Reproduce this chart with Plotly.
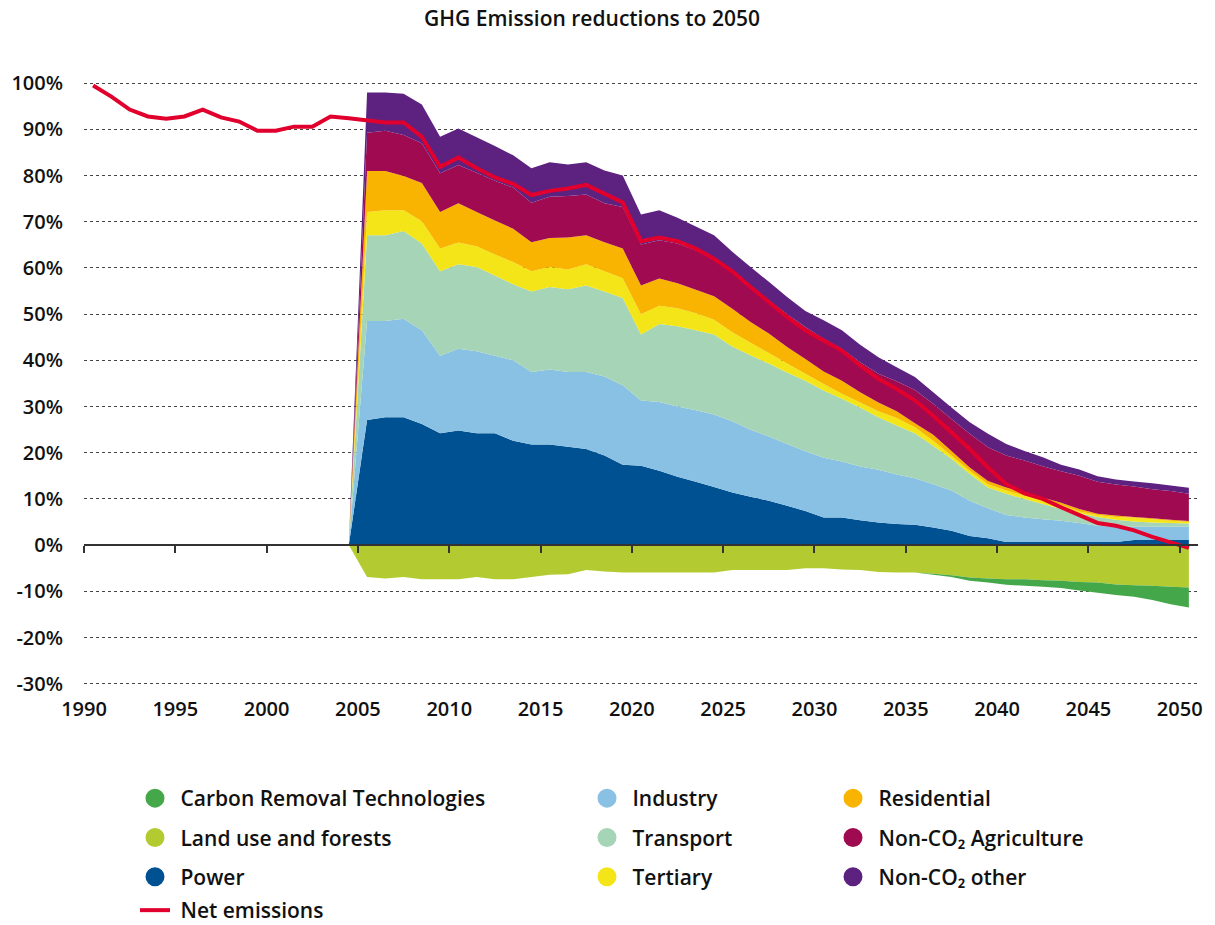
import plotly.graph_objects as go

# ---------------- data (% of 1990 emissions) -------------
years_all = list(range(1990, 2051))
years_sectors = list(range(2004, 2051))

net_emissions = [99.5, 97.1, 94.3, 92.8, 92.3, 92.8, 94.3, 92.6, 91.7, 89.7, 89.7, 90.6, 90.6, 92.8, 92.4,
                 91.9, 91.5, 91.5, 88.4, 81.9, 83.9, 81.6, 79.6, 78.2, 75.8, 76.7, 77.2, 78.0, 76.1, 74.2,
                 65.8, 66.6, 65.8, 64.2, 62.0, 59.3, 55.9, 52.6, 49.4, 46.5, 44.3, 42.1, 38.9, 36.0, 33.8,
                 31.3, 28.0, 24.4, 20.8, 16.8, 13.2, 11.2, 10.0, 8.2, 6.4, 4.8, 4.2, 3.2, 1.8, 0.7, -0.6]

power = [0, 27.1, 27.7, 27.7, 26.2, 24.2, 24.8, 24.2, 24.2, 22.6, 21.8,
         21.8, 21.3, 20.8, 19.4, 17.4, 17.2, 16.1, 14.8, 13.7, 12.6,
         11.4, 10.5, 9.6, 8.5, 7.4, 6.0, 6.0, 5.4, 4.9, 4.6,
         4.4, 3.8, 3.1, 2.0, 1.5, 0.7, 0.7, 0.7, 0.7, 0.7,
         0.7, 0.7, 1.1, 1.1, 1.1, 1.1]
industry = [0, 21.4, 20.8, 21.3, 20.3, 16.8, 17.7, 17.8, 16.8, 17.4, 15.7,
            16.2, 16.2, 16.7, 17.1, 17.2, 14.1, 14.9, 15.2, 15.5, 15.7,
            15.4, 14.5, 13.9, 13.4, 12.9, 12.9, 12.1, 11.6, 11.4, 10.7,
            10.1, 9.4, 8.7, 7.6, 6.5, 5.8, 5.3, 4.9, 4.6, 4.1,
            3.5, 3.3, 2.9, 2.9, 2.9, 2.9]
transport = [0, 18.6, 18.6, 19.0, 18.8, 18.3, 18.3, 18.2, 17.4, 16.5, 17.4,
             17.9, 17.9, 18.7, 18.4, 18.9, 14.3, 16.9, 17.4, 17.3, 17.3,
             16.2, 16.1, 15.8, 15.5, 15.3, 14.6, 13.6, 12.8, 11.4, 10.6,
             9.7, 8.3, 6.9, 5.8, 4.5, 4.6, 4.0, 3.3, 2.5, 2.1,
             1.9, 1.5, 1.1, 0.9, 0.8, 0.7]
tertiary = [0, 5.0, 5.4, 4.5, 4.8, 4.9, 4.7, 4.5, 4.5, 4.8, 4.4,
            4.3, 4.3, 4.6, 4.4, 4.3, 4.4, 3.9, 3.9, 3.7, 3.2,
            3.1, 2.7, 2.3, 1.9, 1.5, 1.4, 1.1, 1.1, 1.3, 1.6,
            1.3, 1.1, 0.7, 0.7, 0.7, 0.7, 0.7, 0.9, 0.9, 0.4,
            0.4, 0.6, 0.8, 0.7, 0.5, 0.3]
residential = [0, 8.9, 8.5, 7.4, 8.3, 7.9, 8.5, 7.4, 7.4, 7.2, 6.3,
               6.3, 6.9, 6.3, 6.3, 6.4, 6.2, 5.9, 5.4, 5.1, 5.1,
               5.1, 4.5, 4.2, 3.6, 3.2, 2.7, 2.8, 2.2, 1.9, 1.5,
               0.9, 1.3, 1.0, 0.7, 0.7, 0.7, 0.7, 0.5, 0.5, 0.5,
               0.3, 0.3, 0.2, 0.2, 0.2, 0.2]
non_co2_agriculture = [0, 8.3, 8.7, 8.9, 8.6, 8.4, 8.3, 8.5, 8.6, 8.9, 8.5,
                       8.9, 9.0, 8.8, 8.4, 9.0, 8.9, 8.3, 8.6, 8.5, 8.1,
                       8.3, 7.9, 7.2, 7.1, 6.9, 7.1, 6.9, 6.5, 6.2, 6.5,
                       7.2, 6.7, 6.9, 7.3, 7.3, 6.9, 6.9, 6.8, 6.8, 7.2,
                       6.9, 6.7, 6.6, 6.3, 6.2, 5.9]
non_co2_other = [0, 8.7, 8.3, 8.9, 8.4, 7.9, 7.9, 7.7, 7.5, 7.0, 7.5,
                 7.5, 6.8, 7.0, 7.1, 6.8, 6.5, 6.5, 5.6, 5.2, 5.1,
                 4.0, 4.0, 4.0, 3.7, 3.5, 4.0, 4.0, 3.8, 3.6, 3.0,
                 2.8, 2.5, 2.5, 2.5, 2.9, 2.5, 2.1, 1.9, 1.4, 1.4,
                 1.2, 1.1, 1.1, 1.3, 1.2, 1.3]
land_use = [0, -6.9, -7.2, -6.9, -7.4, -7.4, -7.4, -6.9, -7.4, -7.4, -6.9,
            -6.4, -6.3, -5.4, -5.7, -5.9, -5.9, -5.9, -5.9, -5.9, -5.9,
            -5.4, -5.4, -5.4, -5.4, -5.0, -5.0, -5.3, -5.4, -5.8, -5.9,
            -5.9, -6.2, -6.5, -7.0, -7.2, -7.4, -7.4, -7.6, -7.7, -8.0,
            -8.1, -8.5, -8.7, -8.8, -9.0, -9.2]
carbon_removal = [0, 0, 0, 0, 0, 0, 0, 0, 0, 0, 0,
                  0, 0, 0, 0, 0, 0, 0, 0, 0, 0,
                  0, 0, 0, 0, 0, 0, 0, 0, 0, 0,
                  0, -0.2, -0.4, -0.7, -0.9, -1.2, -1.4, -1.4, -1.6, -1.8,
                  -2.2, -2.3, -2.5, -3.1, -3.8, -4.3]

y_tick_values = [-30, -20, -10, 0, 10, 20, 30, 40, 50, 60, 70, 80, 90, 100]
x_tick_labels = ["1990", "1995", "2000", "2005", "2010", "2015", "2020",
                 "2025", "2030", "2035", "2040", "2045", "2050"]

# ---------------- styling -------------
C = {
    "Carbon Removal Technologies": "#44a84a",
    "Land use and forests": "#b3cb30",
    "Power": "#005192",
    "Industry": "#89c1e4",
    "Transport": "#a6d4b6",
    "Tertiary": "#f3e517",
    "Residential": "#f8b400",
    "Non-CO₂ Agriculture": "#9f0a50",
    "Non-CO₂ other": "#5d2180",
    "Net emissions": "#e1002d",
}
FONT = "Open Sans"
TXT = "#111111"
W = 600

fig = go.Figure()

positive = [("Power", power), ("Industry", industry), ("Transport", transport),
            ("Tertiary", tertiary), ("Residential", residential),
            ("Non-CO₂ Agriculture", non_co2_agriculture), ("Non-CO₂ other", non_co2_other)]
negative = [("Land use and forests", land_use), ("Carbon Removal Technologies", carbon_removal)]

for name, vals in positive:
    fig.add_trace(go.Scatter(x=years_sectors, y=vals, name=name, mode="none",
                             stackgroup="pos", fillcolor=C[name], line=dict(width=0),
                             showlegend=False))
for name, vals in negative:
    fig.add_trace(go.Scatter(x=years_sectors, y=vals, name=name, mode="none",
                             stackgroup="neg", fillcolor=C[name], line=dict(width=0),
                             showlegend=False))

fig.add_trace(go.Scatter(x=years_all, y=net_emissions, name=" Net emissions", mode="lines",
                         line=dict(color=C["Net emissions"], width=4), xaxis="x2",
                         legend="legend4"))

# legend entries (circle markers), three columns
columns = {
    "legend": ["Carbon Removal Technologies", "Land use and forests", "Power"],
    "legend2": ["Industry", "Transport", "Tertiary"],
    "legend3": ["Residential", "Non-CO₂ Agriculture", "Non-CO₂ other"],
}
for lg, names in columns.items():
    for i, name in enumerate(names):
        fig.add_trace(go.Scatter(x=[None], y=[None], mode="markers", name=" " + name,
                                 marker=dict(size=16, color=C[name], symbol="circle",
                                             line=dict(width=3, color=C[name])),
                                 legend=lg, legendgroup=name, legendrank=i + 1))

ymin, ymax = -30.5, 102
zero_pos = (0 - ymin) / (ymax - ymin)
tickpos = [int(t) - 0.5 for t in x_tick_labels]

leg_common = dict(xref="container", yref="container", xanchor="left", yanchor="top",
                  orientation="v", traceorder="grouped", tracegroupgap=9,
                  font=dict(family=FONT, size=21, color=TXT, weight=W),
                  bgcolor="rgba(0,0,0,0)", itemclick=False, itemdoubleclick=False)
legend_top = 1 - 778 / 925

fig.update_layout(
    width=1215, height=925,
    margin=dict(l=84, r=17, t=74, b=239, autoexpand=False),
    paper_bgcolor="white", plot_bgcolor="white",
    font=dict(family=FONT, color=TXT, size=20),
    title=dict(text="GHG Emission reductions to 2050", xref="container", x=592 / 1215,
               xanchor="center", yref="container", y=1 - 19 / 925, yanchor="middle",
               font=dict(family=FONT, size=21, color=TXT, weight=W)),
    showlegend=True,
    legend=dict(x=135 / 1215, y=legend_top, **leg_common),
    legend2=dict(x=587 / 1215, y=legend_top, **leg_common),
    legend3=dict(x=833 / 1215, y=legend_top, **leg_common),
    legend4=dict(x=135 / 1215, y=1 - 890 / 925, **leg_common),
    xaxis=dict(range=[1989.5, 2050.5], anchor="free", position=zero_pos,
               showline=True, linecolor="#333333", linewidth=2,
               ticks="outside", ticklen=7, tickwidth=1.5, tickcolor="#333333",
               tickvals=tickpos, showticklabels=False, showgrid=False, zeroline=False,
               layer="above traces"),
    xaxis2=dict(range=[1989.5, 2050.5], overlaying="x", anchor="y", side="bottom",
                tickvals=tickpos, ticktext=x_tick_labels, showline=False, showgrid=False,
                zeroline=False, ticks="", ticklabelstandoff=9,
                tickfont=dict(family=FONT, size=20, color=TXT, weight=W)),
    yaxis=dict(range=[ymin, ymax], tickvals=y_tick_values,
               ticktext=[f"{v}%" for v in y_tick_values],
               showgrid=True, griddash="dot", gridcolor="#444444", gridwidth=1,
               zeroline=False, showline=False, ticks="", ticklabelstandoff=20,
               tickfont=dict(family=FONT, size=20, color=TXT, weight=W)),
)

fig.write_html("out.html", config={"displayModeBar": False},
               post_script="document.body.style.margin='0';")
